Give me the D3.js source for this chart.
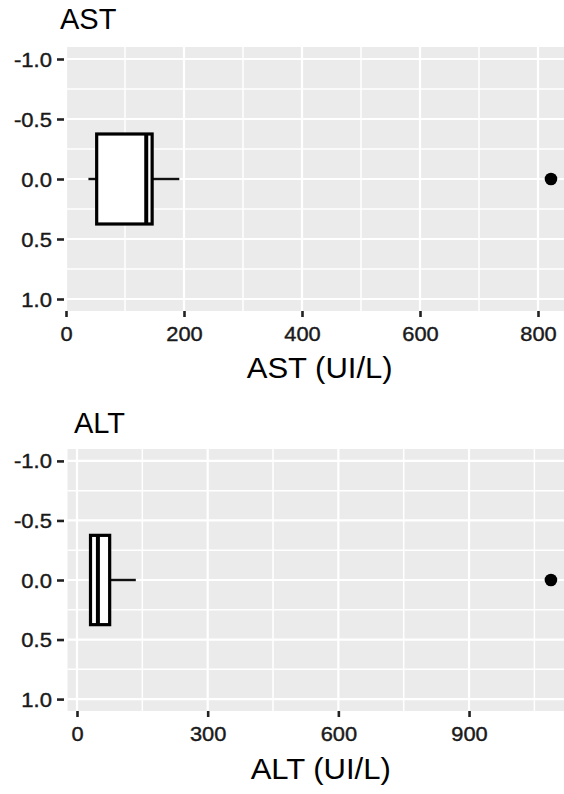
<!DOCTYPE html>
<html>
<head>
<meta charset="utf-8">
<script src="https://cdn.jsdelivr.net/npm/d3@7"></script>
<style>
  html, body { margin: 0; padding: 0; background: #fff; }
  svg { display: block; }
  text { font-family: "Liberation Sans", Arial, sans-serif; }
</style>
</head>
<body>
<svg id="chart" width="564" height="794"></svg>
<script>
// ---- data ----
const panelNames = ["AST", "ALT"];
const axisTitles = ["AST (UI/L)", "ALT (UI/L)"];
// five-number summaries: [min whisker, Q1, median, Q3, max whisker]
const astStats = [38, 52, 136, 146, 192];
const altStats = [31, 31, 48, 75, 135];
const astOutliers = [822];
const altOutliers = [1088];
const astTicks = [0, 200, 400, 600, 800];
const altTicks = [0, 300, 600, 900];
const yTicks = [-1.0, -0.5, 0.0, 0.5, 1.0];
const yMinor = [-0.75, -0.25, 0.25, 0.75];

const svg = d3.select("#chart");

function drawPanel(opt) {
  const { name, title, stats, outliers, ticks, left, top, bottom, zeroX, unitX, titleX, titleY, axisTitleY } = opt;
  const all = [stats[0], stats[4], ...outliers];
  const lo = d3.min(all), hi = d3.max(all);
  const pad = (hi - lo) * 0.05;
  const dom = [lo - pad, hi + pad];
  const x = d3.scaleLinear().domain(dom).range([zeroX + dom[0] * unitX, zeroX + dom[1] * unitX]);
  const y = d3.scaleLinear().domain([-1.1, 1.1]).range([top, bottom]);
  const pl = x.range()[0], pr = x.range()[1];

  const g = svg.append("g");
  g.append("rect").attr("x", pl).attr("y", top).attr("width", pr - pl).attr("height", bottom - top).attr("fill", "#EBEBEB");

  const step = ticks[1] - ticks[0];
  const minorX = d3.range(ticks[0] - step / 2, dom[1], step).filter(v => v > dom[0] && v < dom[1]);
  g.selectAll(".mx").data(minorX).enter().append("line")
    .attr("x1", d => x(d)).attr("x2", d => x(d)).attr("y1", top).attr("y2", bottom)
    .attr("stroke", "#fff").attr("stroke-width", 1.5);
  g.selectAll(".my").data(yMinor).enter().append("line")
    .attr("x1", pl).attr("x2", pr).attr("y1", d => y(d)).attr("y2", d => y(d))
    .attr("stroke", "#fff").attr("stroke-width", 1.5);
  const majorX = d3.range(ticks[0], dom[1], step).filter(v => v > dom[0] && v < dom[1]);
  g.selectAll(".Mx").data(majorX).enter().append("line")
    .attr("x1", d => x(d)).attr("x2", d => x(d)).attr("y1", top).attr("y2", bottom)
    .attr("stroke", "#fff").attr("stroke-width", 2.2);
  g.selectAll(".My").data(yTicks).enter().append("line")
    .attr("x1", pl).attr("x2", pr).attr("y1", d => y(d)).attr("y2", d => y(d))
    .attr("stroke", "#fff").attr("stroke-width", 2.2);

  const yAxis = g.append("g").attr("transform", `translate(${left},0)`)
    .call(d3.axisLeft(y).tickValues(yTicks).tickFormat(d3.format(".1f")).tickSize(7).tickPadding(0));
  yAxis.select(".domain").remove();
  yAxis.selectAll(".tick line").attr("stroke", "#222").attr("stroke-width", 2.6).attr("transform", "translate(-2,0)");
  yAxis.selectAll(".tick text")
    .attr("x", null).attr("dy", null)
    .attr("transform", "translate(-14,7) scale(1.13,1)")
    .attr("font-size", 19.5).attr("fill", "#1a1a1a").attr("stroke", "#1a1a1a").attr("stroke-width", 0.4)
    .attr("text-anchor", "end")
    .text(d => d3.format(".1f")(d).replace("−", "-"));

  const xAxis = g.append("g").attr("transform", `translate(0,${bottom})`)
    .call(d3.axisBottom(x).tickValues(ticks).tickSize(6).tickPadding(0));
  xAxis.select(".domain").remove();
  xAxis.selectAll(".tick line").attr("stroke", "#222").attr("stroke-width", 2.6);
  xAxis.selectAll(".tick text")
    .attr("y", null).attr("dy", null)
    .attr("transform", "translate(0,30) scale(1.12,1)")
    .attr("font-size", 19.5).attr("fill", "#1a1a1a").attr("stroke", "#1a1a1a").attr("stroke-width", 0.4)
    .attr("text-anchor", "middle");

  const cy = y(0);
  const hb = y(0.375) - y(0);
  g.append("line").attr("x1", x(stats[0])).attr("x2", x(stats[1])).attr("y1", cy).attr("y2", cy)
    .attr("stroke", "#111").attr("stroke-width", 2.4);
  g.append("line").attr("x1", x(stats[3])).attr("x2", x(stats[4])).attr("y1", cy).attr("y2", cy)
    .attr("stroke", "#111").attr("stroke-width", 2.4);
  g.append("rect").attr("x", x(stats[1])).attr("y", cy - hb)
    .attr("width", x(stats[3]) - x(stats[1])).attr("height", 2 * hb)
    .attr("fill", "#fff").attr("stroke", "#000").attr("stroke-width", 3.2);
  g.append("line").attr("x1", x(stats[2])).attr("x2", x(stats[2])).attr("y1", cy - hb).attr("y2", cy + hb)
    .attr("stroke", "#000").attr("stroke-width", 4);

  g.selectAll(".out").data(outliers).enter().append("circle")
    .attr("cx", d => x(d)).attr("cy", cy).attr("r", 6.3).attr("fill", "#000");

  svg.append("text").attr("x", titleX).attr("y", titleY).attr("font-size", 29).attr("fill", "#000").text(name);
  svg.append("text").attr("x", 0).attr("y", 0)
    .attr("transform", `translate(${(pl + pr) / 2},${axisTitleY}) scale(1.07,1)`)
    .attr("text-anchor", "middle").attr("font-size", 29).attr("fill", "#000").text(title);
}

drawPanel({
  name: panelNames[0], title: axisTitles[0], stats: astStats, outliers: astOutliers, ticks: astTicks,
  left: 66, top: 47, bottom: 311, zeroX: 66, unitX: 0.59,
  titleX: 60, titleY: 29, axisTitleY: 378
});
drawPanel({
  name: panelNames[1], title: axisTitles[1], stats: altStats, outliers: altOutliers, ticks: altTicks,
  left: 66, top: 449, bottom: 711, zeroX: 77, unitX: 0.4356,
  titleX: 74, titleY: 433, axisTitleY: 779
});
</script>
</body>
</html>
